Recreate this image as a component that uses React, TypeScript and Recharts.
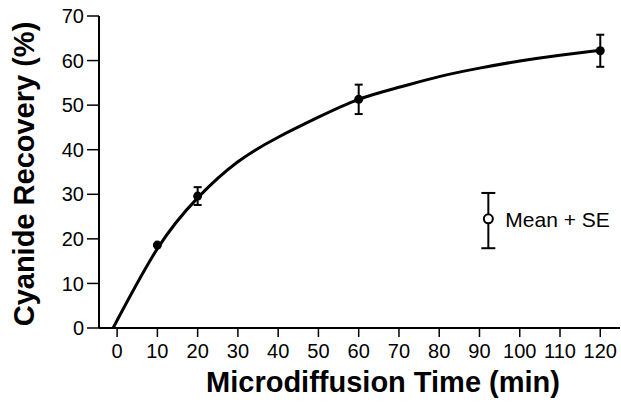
import React from 'react';
import { ComposedChart, Line, Scatter, XAxis, YAxis, ErrorBar, Label } from 'recharts';

const curveTime = [-1, 10, 20, 30, 40, 50, 60, 70, 80, 90, 100, 110, 120];
const curveRecovery = [0, 17.8, 29.2, 37.3, 42.8, 47.3, 51.3, 54.0, 56.4, 58.3, 59.9, 61.2, 62.3];

const sampleTime = [10, 20, 60, 120];
const sampleMean = [18.6, 29.6, 51.3, 62.2];
const sampleSE = [0, 2, 3.3, 3.6];

const legendTime = [92.2];
const legendMean = [24.5];
const legendSE: [number, number][] = [[6.6, 5.8]];
const legendText = 'Mean + SE';

const xTicks = [0, 10, 20, 30, 40, 50, 60, 70, 80, 90, 100, 110, 120];
const yTicks = [0, 10, 20, 30, 40, 50, 60, 70];
const xTitle = 'Microdiffusion Time (min)';
const yTitle = 'Cyanide Recovery (%)';

const curveData = curveTime.map((x, i) => ({ x, y: curveRecovery[i] }));
const sampleData = sampleTime.map((x, i) => ({ x, y: sampleMean[i], err: sampleSE[i] }));
const legendData = legendTime.map((x, i) => ({ x, y: legendMean[i], err: legendSE[i] }));

const FONT = 'Liberation Sans, Arial, Helvetica, sans-serif';

const FilledDot = (props: any) => <circle cx={props.cx} cy={props.cy} r={4.5} fill="#000" />;
const LegendDot = (props: any) => (
  <g>
    <circle cx={props.cx} cy={props.cy} r={4.5} fill="#fff" stroke="#000" strokeWidth={2} />
    <text x={props.cx + 17} y={props.cy + 8} fontSize={21} fontFamily={FONT} fill="#000">
      {legendText}
    </text>
  </g>
);

export default function App() {
  return (
    <div style={{ position: 'absolute', left: 0, top: 0, background: '#fff' }}>
      <ComposedChart width={621} height={403} margin={{ top: 16, right: 1, left: 0, bottom: 0 }}>
        <XAxis
          type="number"
          dataKey="x"
          domain={[-4.5, 124.9]}
          allowDataOverflow
          ticks={xTicks}
          interval={0}
          height={75}
          tickSize={9}
          tickMargin={7}
          axisLine={{ stroke: '#000', strokeWidth: 2 }}
          tickLine={{ stroke: '#000', strokeWidth: 1.5 }}
          tick={{ fill: '#000', fontSize: 20, fontFamily: FONT }}
        >
          <Label
            content={() => (
              <text x={383} y={392} textAnchor="middle" fontSize={29} fontWeight="bold" fontFamily={FONT} fill="#000">
                {xTitle}
              </text>
            )}
          />
        </XAxis>
        <YAxis
          type="number"
          dataKey="y"
          domain={[0, 70]}
          ticks={yTicks}
          interval={0}
          width={99}
          tickSize={12}
          tickMargin={3}
          axisLine={{ stroke: '#000', strokeWidth: 2 }}
          tickLine={{ stroke: '#000', strokeWidth: 1.5 }}
          tick={{ fill: '#000', fontSize: 20, fontFamily: FONT }}
        >
          <Label
            content={() => (
              <text
                x={34}
                y={174}
                transform="rotate(-90 34 174)"
                textAnchor="middle"
                fontSize={29}
                fontWeight="bold"
                fontFamily={FONT}
                fill="#000"
              >
                {yTitle}
              </text>
            )}
          />
        </YAxis>
        <Line
          data={curveData}
          dataKey="y"
          type="natural"
          stroke="#000"
          strokeWidth={3}
          dot={false}
          activeDot={false}
          isAnimationActive={false}
        />
        <Scatter data={sampleData} dataKey="y" shape={FilledDot} isAnimationActive={false}>
          <ErrorBar dataKey="err" direction="y" width={4} stroke="#000" strokeWidth={2} isAnimationActive={false} />
        </Scatter>
        <Scatter data={legendData} dataKey="y" shape={LegendDot} isAnimationActive={false}>
          <ErrorBar dataKey="err" direction="y" width={7} stroke="#000" strokeWidth={2} isAnimationActive={false} />
        </Scatter>
      </ComposedChart>
    </div>
  );
}
